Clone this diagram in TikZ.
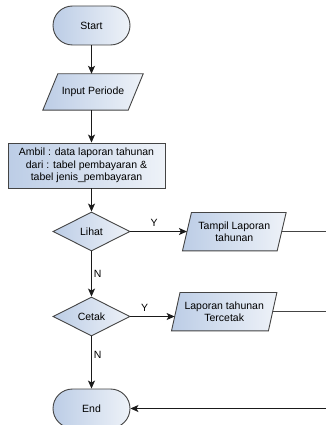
\documentclass[tikz,border=0pt]{standalone}
\usepackage{fontspec}
\setmainfont{Liberation Sans}
\usetikzlibrary{shapes.geometric,arrows.meta}
\pgfdeclarelayer{background}
\pgfsetlayers{background,main}
\definecolor{fillA}{HTML}{BCCDE6}
\definecolor{fillB}{HTML}{EEF2F8}
\definecolor{edgeC}{HTML}{444444}
\definecolor{lineC}{HTML}{1A1A1A}
\tikzset{
  base/.style={draw=edgeC, line width=0.9pt, left color=fillA, right color=fillB, font=\fontsize{10.5}{12.5}\selectfont, align=center, inner sep=0pt},
  term/.style={base, rounded corners=19.5pt, minimum width=77pt, minimum height=39pt},
  procbox/.style={base, rectangle, minimum width=157pt, minimum height=45pt},
  dec/.style={base, diamond, aspect=1.97, minimum width=77pt, minimum height=39pt},
  iotext/.style={rectangle, inner sep=0pt, align=center, font=\fontsize{10.5}{12.5}\selectfont},
  ioshape/.style={draw=edgeC, line width=0.9pt, left color=fillA, right color=fillB},
  conn/.style={draw=lineC, line width=0.9pt, -{Stealth[length=8pt,width=7pt,inset=2pt]}},
  plain/.style={draw=edgeC, line width=0.9pt},
  lab/.style={font=\fontsize{10.5}{12.5}\selectfont, inner sep=0pt}
}
\begin{document}
\begin{tikzpicture}[x=1pt,y=-1pt]
\useasboundingbox (0,0) rectangle (326,425);
\clip (0,0) rectangle (326,425);
\node[term] (start) at (91.5,25.5) {Start};
\node[iotext, minimum width=100pt, minimum height=36pt] (input) at (93,92) {Input Periode};
\node[procbox] (ambil) at (86.5,165.5) {Ambil : data laporan tahunan\\dari : tabel pembayaran \&\\tabel jenis\_pembayaran};
\node[dec] (lihat) at (91.5,231.5) {Lihat};
\node[iotext, minimum width=103.3pt, minimum height=38pt] (tampil) at (234.3,231.7) {Tampil Laporan\\tahunan};
\node[dec] (cetak) at (91.5,316.5) {Cetak};
\node[iotext, minimum width=105pt, minimum height=38pt] (cetakout) at (224.2,311.7) {Laporan tahunan\\Tercetak};
\node[term] (end) at (91.5,408.5) {End};
\begin{pgfonlayer}{background}
\path[ioshape] ([xshift=15pt]input.north west) -- (input.north east) -- ([xshift=-15pt]input.south east) -- (input.south west) -- cycle;
\path[ioshape] ([xshift=9pt]tampil.north west) -- (tampil.north east) -- ([xshift=-9pt]tampil.south east) -- (tampil.south west) -- cycle;
\path[ioshape] ([xshift=8.5pt]cetakout.north west) -- (cetakout.north east) -- ([xshift=-8.5pt]cetakout.south east) -- (cetakout.south west) -- cycle;
\end{pgfonlayer}
\coordinate (r1) at (326,231.7);
\coordinate (r2) at (326,311.7);
\coordinate (r3) at (326,408.5);
\draw[conn] (start) -- (start.south |- input.north);
\draw[conn] (input.south -| start.south) -- (start.south |- ambil.north);
\draw[conn] (start.south |- ambil.south) -- (lihat.north);
\draw[conn] (lihat.east) -- ([xshift=4.5pt]lihat.east -| tampil.west) node[lab, pos=0.42, above=5pt] {Y};
\draw[conn] (lihat.south) -- (cetak.north) node[lab, pos=0.5, right=2pt] {N};
\draw[conn] (cetak.east) -- ([xshift=3.1pt]cetak.east -| cetakout.west) node[lab, pos=0.32, above=5pt] {Y};
\draw[conn] (cetak.south) -- (end.north) node[lab, pos=0.35, right=2pt] {N};
\draw[plain] ([xshift=-4.5pt]tampil.east) -- (r1);
\draw[plain] ([xshift=-4.25pt]cetakout.east) -- (r2);
\draw[conn] (r3) -- (end.east);
\end{tikzpicture}
\end{document}
